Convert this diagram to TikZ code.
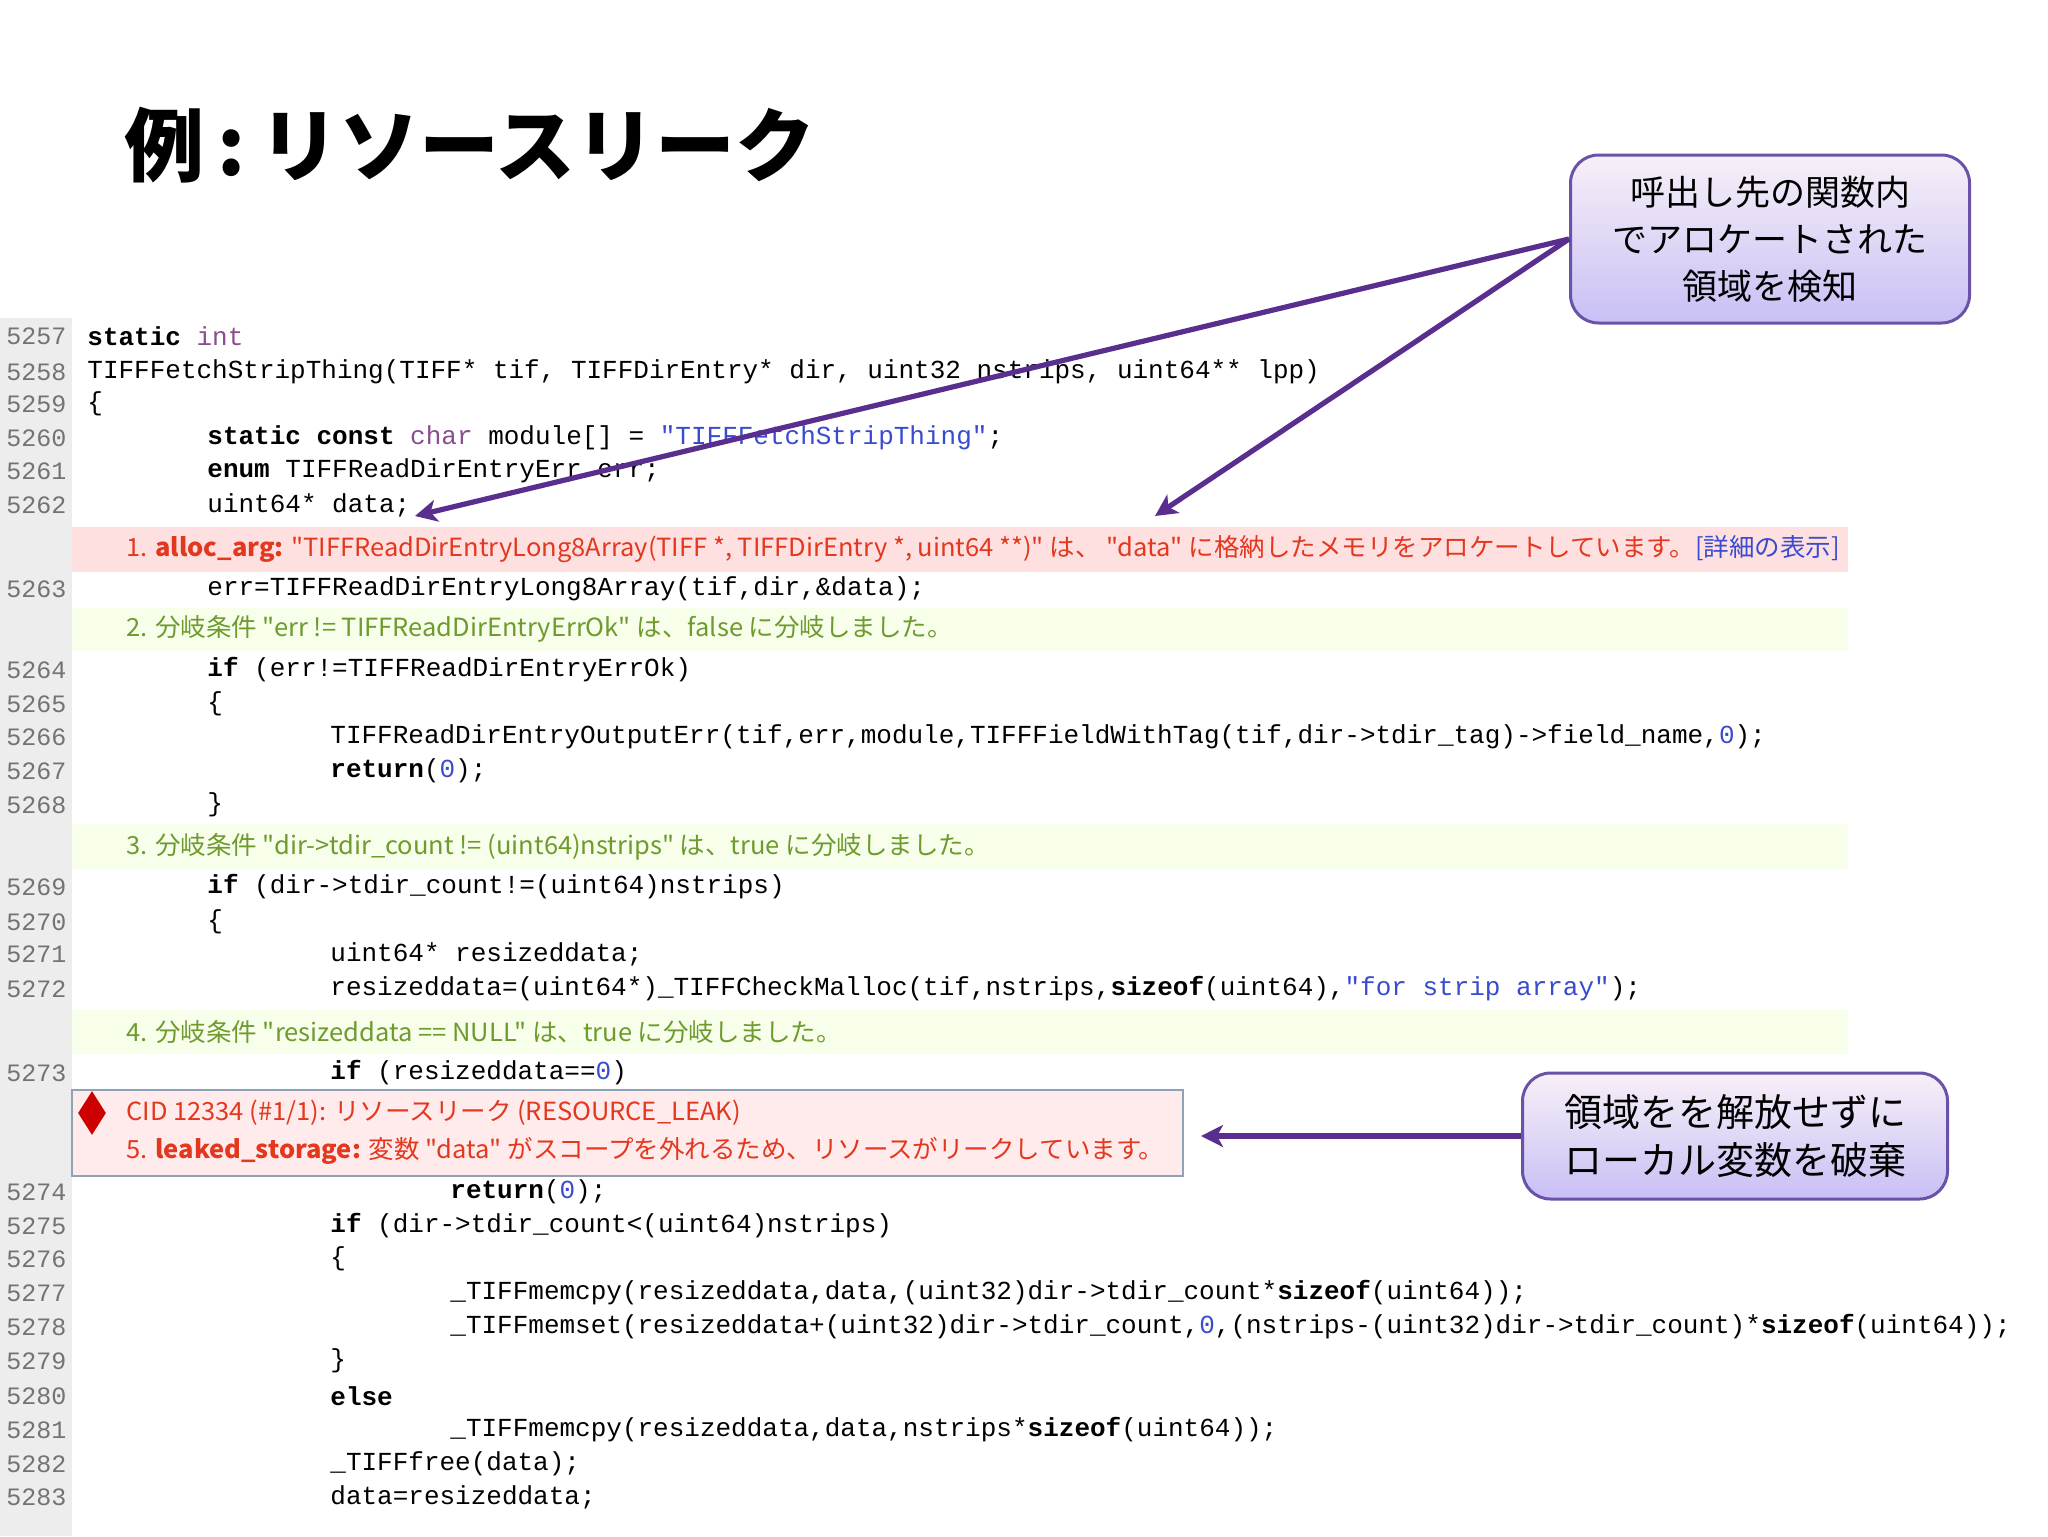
\documentclass[tikz,border=0pt]{standalone}
\usepackage{fontspec}
\usetikzlibrary{arrows.meta,shapes.geometric}
\setmonofont{Liberation Mono}
\newfontfamily\cjk{Noto Sans CJK JP}
\newfontfamily\annf{Noto Sans CJK JP}[FakeStretch=1.02]
\definecolor{kwpurple}{HTML}{8A4E8E}
\definecolor{strblue}{HTML}{3A4BD0}
\definecolor{annred}{HTML}{E3371E}
\definecolor{anngreen}{HTML}{6E9A2E}
\definecolor{arrowpurple}{HTML}{5A2E8E}
\definecolor{boxborder}{HTML}{6A52A8}
\definecolor{cidborder}{HTML}{8FA3B8}
\newcommand\kw[1]{\textbf{#1}}
\newcommand\ty[1]{\textcolor{kwpurple}{#1}}
\newcommand\strc[1]{\textcolor{strblue}{#1}}
\newcommand\nm[1]{\textcolor{strblue}{#1}}
\newcommand\cl[4]{\node[lnum] (n#1) at (6,#2) {#1}; \node[code] (c#1) at (#3,#2) {#4};}
\begin{document}
\begin{tikzpicture}[x=0.5pt,y=-0.5pt,
  code/.style={anchor=west,inner sep=0,font=\ttfamily\fontsize{13}{13}\selectfont},
  lnum/.style={anchor=west,inner sep=0,text=black!55,font=\ttfamily\fontsize{12.5}{13}\selectfont},
  ann/.style={anchor=west,inner sep=0,font=\annf\fontsize{12.5}{13}\selectfont},
  callout/.style={draw=boxborder,line width=1.5pt,rounded corners=14pt,top color=violet!6,bottom color=violet!30!blue!25,align=center,font=\cjk\fontsize{17.5}{23.5}\selectfont},
  arr/.style={draw=arrowpurple,line width=2.6pt,-{Stealth[length=11pt,width=11pt,inset=3pt]}}]
\useasboundingbox (0,0) rectangle (2048,1536);
\fill[white] (0,0) rectangle (2048,1536);
% gutter
\fill[black!7] (0,318) rectangle (72,1536);
% bands
\fill[red!12] (72,527) rectangle (1848,572);
\fill[green!40!yellow!8] (72,608) rectangle (1848,651);
\fill[green!40!yellow!8] (72,824) rectangle (1848,869);
\fill[green!40!yellow!8] (72,1010) rectangle (1848,1054);
% title
\node[anchor=west,inner sep=0,font=\cjk\bfseries\fontsize{40}{40}\selectfont] (title) at (124,145) {例\,:\,リソースリーク};
% code
\cl{5257}{336}{87}{\kw{static} \ty{int}}
\cl{5258}{372}{87}{TIFFFetchStripThing(TIFF* tif, TIFFDirEntry* dir, uint32 nstrips, uint64** lpp)}
\cl{5259}{404}{87}{\{}
\cl{5260}{438}{207}{\kw{static} \kw{const} \ty{char} module[] = \strc{"TIFFFetchStripThing"};}
\cl{5261}{471}{207}{\kw{enum} TIFFReadDirEntryErr err;}
\cl{5262}{505}{207}{uint64* data;}
\node[ann,text=annred] (a1) at (126,549) {1. \textbf{alloc\_arg:} "TIFFReadDirEntryLong8Array(TIFF *, TIFFDirEntry *, uint64 **)" は、 "data" に格納したメモリをアロケートしています。\textcolor{strblue}{[詳細の表示]}};
\cl{5263}{589}{207}{err=TIFFReadDirEntryLong8Array(tif,dir,\&data);}
\node[ann,text=anngreen] (a2) at (126,629) {2. 分岐条件 "err != TIFFReadDirEntryErrOk" は、false に分岐しました。};
\cl{5264}{670}{207}{\kw{if} (err!=TIFFReadDirEntryErrOk)}
\cl{5265}{704}{207}{\{}
\cl{5266}{737}{330}{TIFFReadDirEntryOutputErr(tif,err,module,TIFFFieldWithTag(tif,dir->tdir\_tag)->field\_name,\nm{0});}
\cl{5267}{771}{330}{\kw{return}(\nm{0});}
\cl{5268}{805}{207}{\}}
\node[ann,text=anngreen] (a3) at (126,847) {3. 分岐条件 "dir->tdir\_count != (uint64)nstrips" は、true に分岐しました。};
\cl{5269}{887}{207}{\kw{if} (dir->tdir\_count!=(uint64)nstrips)}
\cl{5270}{922}{207}{\{}
\cl{5271}{954}{330}{uint64* resizeddata;}
\cl{5272}{989}{330}{resizeddata=(uint64*)\_TIFFCheckMalloc(tif,nstrips,\kw{sizeof}(uint64),\strc{"for strip array"});}
\node[ann,text=anngreen] (a4) at (126,1032) {4. 分岐条件 "resizeddata == NULL" は、true に分岐しました。};
\cl{5273}{1073}{330}{\kw{if} (resizeddata==\nm{0})}
% CID box
\draw[draw=cidborder,fill=red!8,line width=1pt] (72,1090) rectangle (1183,1176);
\node[diamond,fill=red!80!black,minimum width=14pt,minimum height=22pt,inner sep=0] (dia) at (92,1113) {};
\node[ann,text=annred] (cid) at (126,1113) {CID 12334 (\#1/1): リソースリーク (RESOURCE\_LEAK)};
\node[ann,text=annred] (a5) at (126,1151) {5. \textbf{leaked\_storage:} 変数 "data" がスコープを外れるため、リソースがリークしています。};
\cl{5274}{1192}{450}{\kw{return}(\nm{0});}
\cl{5275}{1226}{330}{\kw{if} (dir->tdir\_count<(uint64)nstrips)}
\cl{5276}{1259}{330}{\{}
\cl{5277}{1293}{450}{\_TIFFmemcpy(resizeddata,data,(uint32)dir->tdir\_count*\kw{sizeof}(uint64));}
\cl{5278}{1327}{450}{\_TIFFmemset(resizeddata+(uint32)dir->tdir\_count,\nm{0},(nstrips-(uint32)dir->tdir\_count)*\kw{sizeof}(uint64));}
\cl{5279}{1361}{330}{\}}
\cl{5280}{1396}{330}{\kw{else}}
\cl{5281}{1430}{450}{\_TIFFmemcpy(resizeddata,data,nstrips*\kw{sizeof}(uint64));}
\cl{5282}{1464}{330}{\_TIFFfree(data);}
\cl{5283}{1497}{330}{data=resizeddata;}
% callouts
\node[callout,inner sep=0,minimum width=199.5pt,minimum height=84pt] (box1) at (1770,239) {呼出し先の関数内\\でアロケートされた\\領域を検知};
\node[callout,inner sep=0,minimum width=212.5pt,minimum height=63pt,font=\cjk\fontsize{19}{24}\selectfont] (box2) at (1735,1136) {領域をを解放せずに\\ローカル変数を破棄};
\coordinate (t1) at (415,516);
\coordinate (t2) at (1155,516);
\coordinate (t3) at (1201,1136);
\draw[arr] (box1.west) -- (t1);
\draw[arr] (box1.west) -- (t2);
\draw[arr] (box2.west) -- (t3);
\end{tikzpicture}
\end{document}
